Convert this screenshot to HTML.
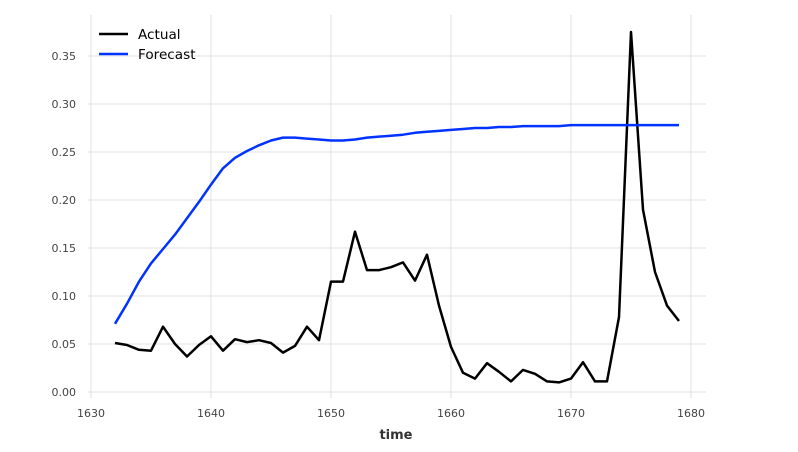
<!DOCTYPE html>
<html><head><meta charset="utf-8"><style>
body{margin:0;background:#fff;}
svg{display:block;font-family:"DejaVu Sans","Liberation Sans",sans-serif;}
</style></head><body>
<svg id="chart" width="798" height="452" viewBox="0 0 798 452">
<g id="grid"></g>
<g id="ticks"></g>
<g id="series"></g>
<text x="396" y="439" text-anchor="middle" font-size="13" font-weight="bold" fill="#333">time</text>
<g>
<line x1="99" y1="34" x2="128" y2="34" stroke="#000" stroke-width="2.5"/>
<text x="138" y="39" font-size="13.6" fill="#000">Actual</text>
<line x1="99" y1="54" x2="128" y2="54" stroke="#0033ff" stroke-width="2.5"/>
<text x="138" y="59" font-size="13.6" fill="#000">Forecast</text>
</g>
</svg>
<script>
const startYear = 1632;
const actual = [0.051,0.049,0.044,0.043,0.068,0.050,0.037,0.049,0.058,0.043,0.055,0.052,0.054,0.051,0.041,0.048,0.068,0.054,0.115,0.115,0.167,0.127,0.127,0.130,0.135,0.116,0.143,0.090,0.047,0.020,0.014,0.030,0.021,0.011,0.023,0.019,0.011,0.010,0.014,0.031,0.011,0.011,0.078,0.375,0.190,0.125,0.090,0.074];
const forecast = [0.071,0.092,0.115,0.134,0.149,0.164,0.181,0.198,0.216,0.233,0.244,0.251,0.257,0.262,0.265,0.265,0.264,0.263,0.262,0.262,0.263,0.265,0.266,0.267,0.268,0.270,0.271,0.272,0.273,0.274,0.275,0.275,0.276,0.276,0.277,0.277,0.277,0.277,0.278,0.278,0.278,0.278,0.278,0.278,0.278,0.278,0.278,0.278];
const xTicks = [1630,1640,1650,1660,1670,1680];
const yTicks = [0.00,0.05,0.10,0.15,0.20,0.25,0.30,0.35];

const NS="http://www.w3.org/2000/svg";
const X = v => 91 + (v-1630)*12;
const Y = v => 392 - v*960;
function mk(tag, attrs, parent){const e=document.createElementNS(NS,tag);for(const k in attrs)e.setAttribute(k,attrs[k]);parent.appendChild(e);return e;}
const grid=document.getElementById('grid'), ticks=document.getElementById('ticks'), series=document.getElementById('series');
xTicks.forEach(t=>{
  const l=mk('line',{x1:X(t),x2:X(t),y1:15,y2:398,stroke:'#e2e2e2','stroke-width':1},grid);
  
  
  const tx=mk('text',{x:X(t),y:417,'text-anchor':'middle','font-size':11,fill:'#444'},ticks);
  tx.textContent=t;
  
  
});
yTicks.forEach(t=>{
  const l=mk('line',{x1:88,x2:706,y1:Y(t),y2:Y(t),stroke:'#e2e2e2','stroke-width':1},grid);
  
  
  const tx=mk('text',{x:76,y:Y(t)+4,'text-anchor':'end','font-size':11,fill:'#444'},ticks);
  tx.textContent=t.toFixed(2);
  
  
});
function line(vals,color,name){
  const d=vals.map((v,i)=>(i?'L':'M')+X(startYear+i).toFixed(1)+','+Y(v).toFixed(1)).join(' ');
  const p=mk('path',{d:d,fill:'none',stroke:color,'stroke-width':2.5,'stroke-linejoin':'round'},series);
  
  
}
line(actual,'#000000','actual-line');
line(forecast,'#0033ff','forecast-line');
</script>
</body></html>
